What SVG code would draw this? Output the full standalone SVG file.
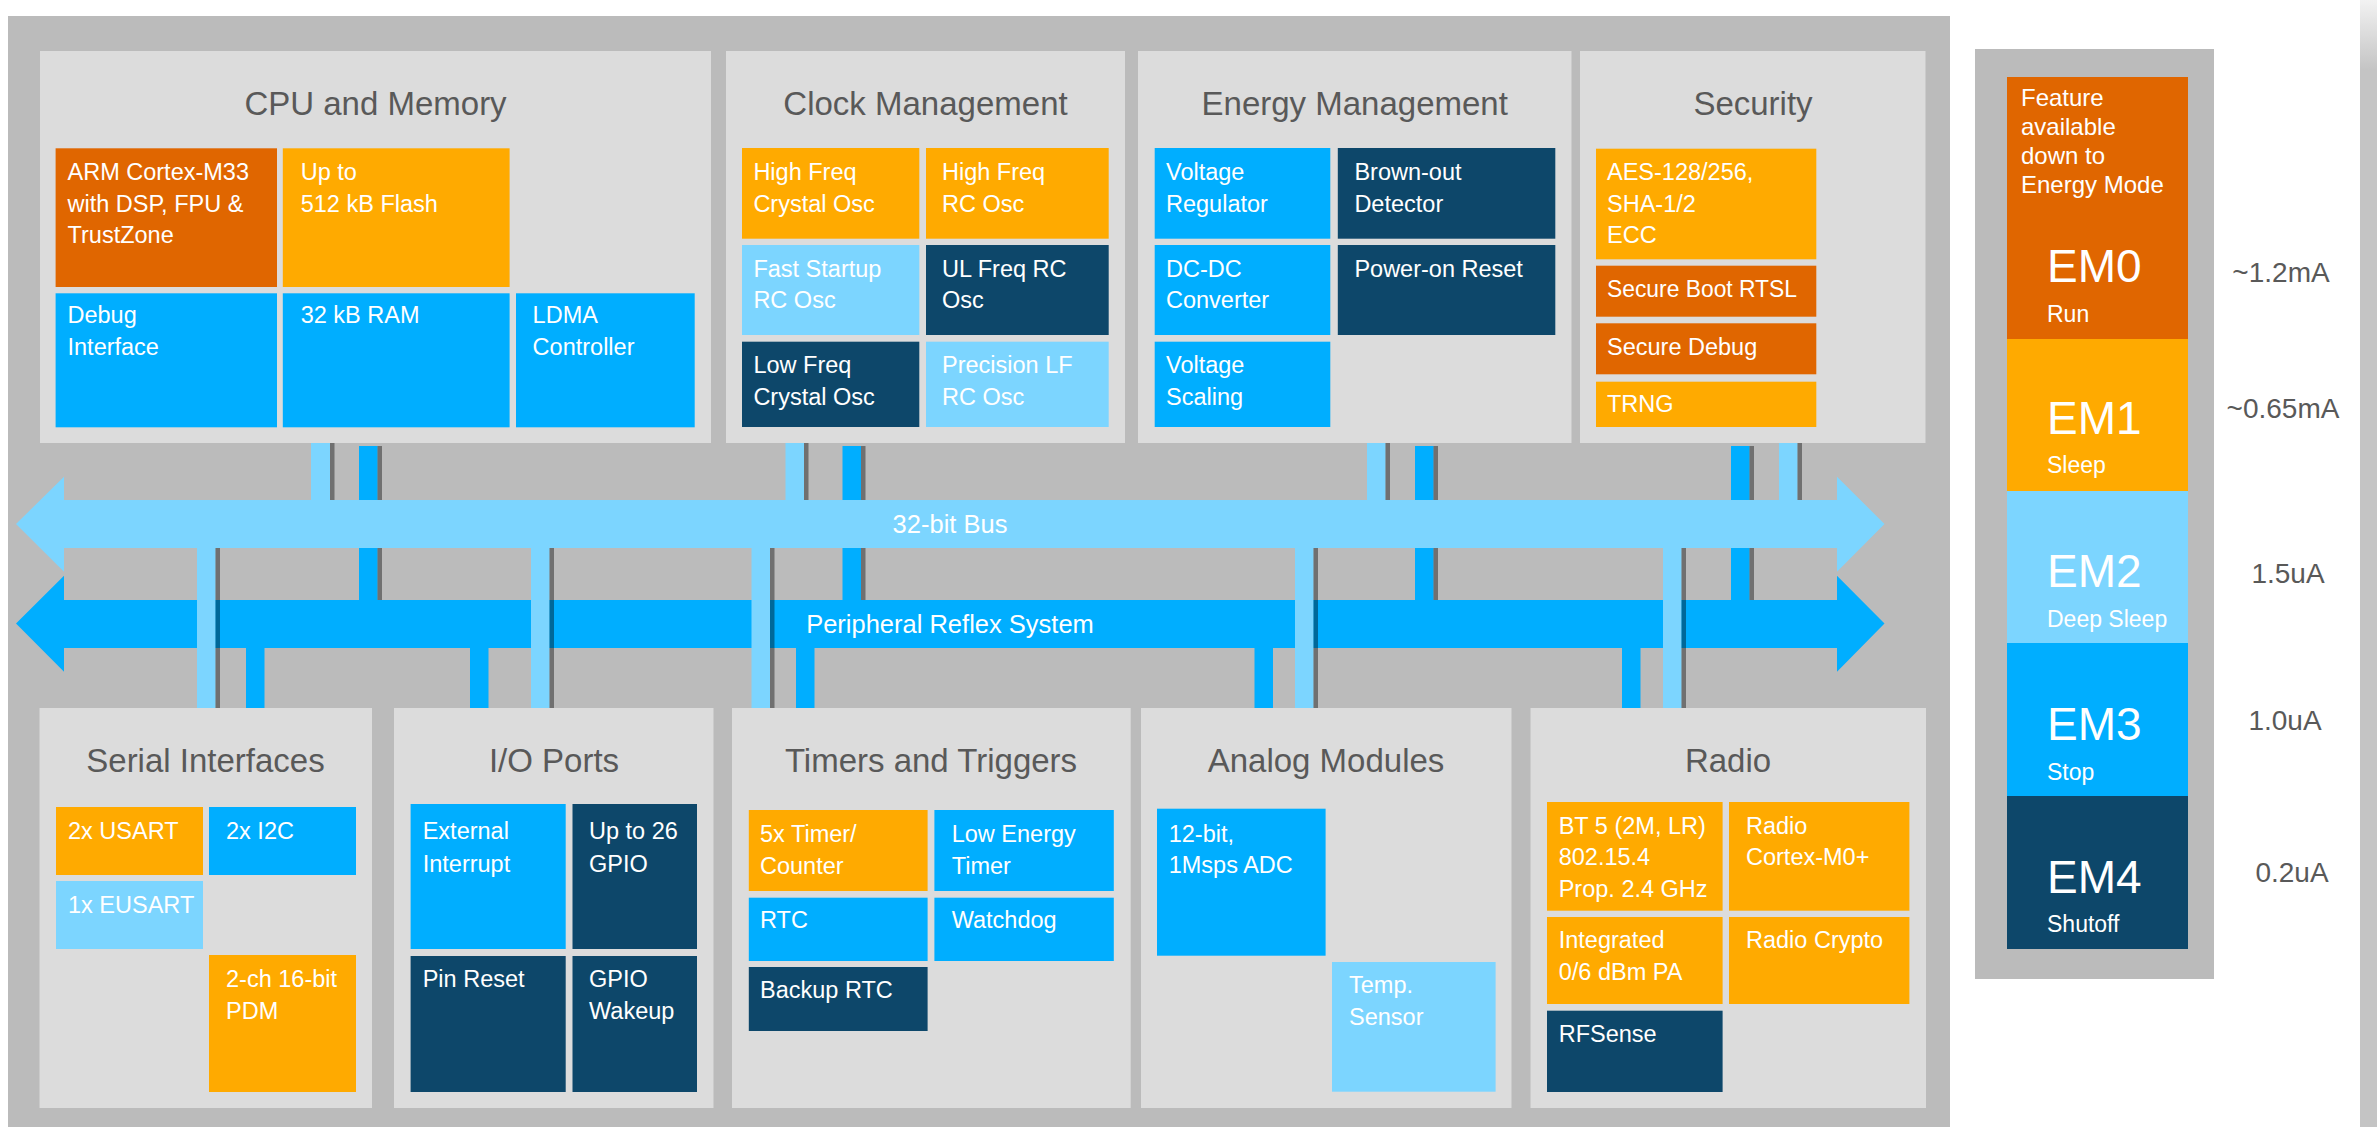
<svg xmlns="http://www.w3.org/2000/svg" width="2377" height="1127" viewBox="0 0 2377 1127">
<defs>
<style>
.panel{fill:#DCDCDC}
.frame{fill:#BBBBBB}
.title{font-family:"Liberation Sans",Arial,sans-serif;font-size:33px;fill:#595959;text-anchor:middle}
.t{font-family:"Liberation Sans",Arial,sans-serif;font-size:23.5px;fill:#FFFFFF}
.do{fill:#E06600}
.or{fill:#FFAA00}
.bb{fill:#00AEFF}
.lb{fill:#7CD5FF}
.nv{fill:#0D476A}
.sh{fill:#000000;fill-opacity:0.4}
.bus{font-family:"Liberation Sans",Arial,sans-serif;font-size:25.5px;fill:#FFFFFF;text-anchor:middle}
.em{font-family:"Liberation Sans",Arial,sans-serif;font-size:46px;fill:#FFFFFF}
.ems{font-family:"Liberation Sans",Arial,sans-serif;font-size:23px;fill:#FFFFFF}
.feat{font-family:"Liberation Sans",Arial,sans-serif;font-size:24px;fill:#FFFFFF}
.cur{font-family:"Liberation Sans",Arial,sans-serif;font-size:28px;fill:#595959;text-anchor:middle}
</style>
<linearGradient id="strip" x1="0" y1="0" x2="0" y2="70" gradientUnits="userSpaceOnUse">
<stop offset="0" stop-color="#F2F2F2"/>
<stop offset="1" stop-color="#C4C4C4"/>
</linearGradient>
</defs>
<rect x="0" y="0" width="2377" height="1127" fill="#FFFFFF"/>
<rect x="2360" y="0" width="17" height="1127" fill="url(#strip)"/>
<rect class="frame" x="8" y="16" width="1942" height="1111"/>

<!-- connectors -->
<g id="connectors">
  <!-- CPU to PRS (under 32-bit bus) -->
  <rect class="bb" x="359" y="446" width="18.5" height="154"/><rect class="sh" x="377.5" y="446" width="4.5" height="154"/>
  <rect class="bb" x="842.5" y="446" width="18.5" height="154"/><rect class="sh" x="861" y="446" width="4.5" height="154"/>
  <rect class="bb" x="1415" y="446" width="18.5" height="154"/><rect class="sh" x="1433.5" y="446" width="4.5" height="154"/>
  <rect class="bb" x="1731" y="446" width="18.5" height="154"/><rect class="sh" x="1749.5" y="446" width="4.5" height="154"/>
  <!-- top blocks to 32-bit bus -->
  <rect class="lb" x="311" y="443" width="19" height="57"/><rect class="sh" x="330" y="443" width="4.5" height="57"/>
  <rect class="lb" x="785.5" y="443" width="18.5" height="57"/><rect class="sh" x="804" y="443" width="4.5" height="57"/>
  <rect class="lb" x="1367" y="443" width="18.5" height="57"/><rect class="sh" x="1385.5" y="443" width="4.5" height="57"/>
  <rect class="lb" x="1779" y="443" width="18.5" height="57"/><rect class="sh" x="1797.5" y="443" width="4.5" height="57"/>
  <!-- 32-bit bus -->
  <polygon class="lb" points="16,524 64,476.7 64,500 1837,500 1837,476.7 1884.5,524 1837,571.7 1837,548 64,548 64,571.7"/>
  <text class="bus" x="950" y="533">32-bit Bus</text>
  <!-- Peripheral Reflex System -->
  <polygon class="bb" points="16,623.5 64,575.7 64,600 1837,600 1837,575.7 1884.5,623.5 1837,671.7 1837,648 64,648 64,671.7"/>
  <text class="bus" x="950" y="633">Peripheral Reflex System</text>
  <!-- 32-bit bus to bottom blocks (over PRS) -->
  <rect class="lb" x="197" y="548" width="18.5" height="160"/><rect class="sh" x="215.5" y="548" width="4.5" height="160"/>
  <rect class="lb" x="531" y="548" width="18.5" height="160"/><rect class="sh" x="549.5" y="548" width="4.5" height="160"/>
  <rect class="lb" x="751.5" y="548" width="18.5" height="160"/><rect class="sh" x="770" y="548" width="4.5" height="160"/>
  <rect class="lb" x="1295" y="548" width="18.5" height="160"/><rect class="sh" x="1313.5" y="548" width="4.5" height="160"/>
  <rect class="lb" x="1663" y="548" width="18.5" height="160"/><rect class="sh" x="1681.5" y="548" width="4.5" height="160"/>
  <!-- PRS to bottom blocks -->
  <rect class="bb" x="246" y="648" width="18.5" height="60"/>
  <rect class="bb" x="470" y="648" width="18.5" height="60"/>
  <rect class="bb" x="796" y="648" width="18.5" height="60"/>
  <rect class="bb" x="1254.5" y="648" width="18.5" height="60"/>
  <rect class="bb" x="1622" y="648" width="18.5" height="60"/>
</g>

<!-- CPU and Memory -->
<g id="cpu-memory">
  <rect class="panel" x="40" y="51" width="671" height="392"/>
  <text class="title" x="375.5" y="115">CPU and Memory</text>
  <rect class="do" x="55.6" y="148.3" width="221.4" height="138.7"/>
  <text class="t" x="67.5" y="180">ARM Cortex-M33</text>
  <text class="t" x="67.5" y="211.7">with DSP, FPU &amp;</text>
  <text class="t" x="67.5" y="243.3">TrustZone</text>
  <rect class="or" x="282.8" y="148.3" width="226.8" height="138.7"/>
  <text class="t" x="300.7" y="180">Up to</text>
  <text class="t" x="300.7" y="211.7">512 kB Flash</text>
  <rect class="bb" x="55.6" y="293.3" width="221.4" height="134"/>
  <text class="t" x="67.5" y="323.3">Debug</text>
  <text class="t" x="67.5" y="355">Interface</text>
  <rect class="bb" x="282.8" y="293.3" width="226.8" height="134"/>
  <text class="t" x="300.7" y="323.3">32 kB RAM</text>
  <rect class="bb" x="516" y="293.3" width="178.7" height="134"/>
  <text class="t" x="532.6" y="323.3">LDMA</text>
  <text class="t" x="532.6" y="355">Controller</text>
</g>

<!-- Clock Management -->
<g id="clock-management">
  <rect class="panel" x="726" y="51" width="399" height="392"/>
  <text class="title" x="925.5" y="115">Clock Management</text>
  <rect class="or" x="742" y="148" width="177.3" height="90.7"/>
  <text class="t" x="753.4" y="180">High Freq</text>
  <text class="t" x="753.4" y="211.7">Crystal Osc</text>
  <rect class="or" x="926" y="148" width="182.7" height="90.7"/>
  <text class="t" x="942" y="180">High Freq</text>
  <text class="t" x="942" y="211.7">RC Osc</text>
  <rect class="lb" x="742" y="245" width="177.3" height="90"/>
  <text class="t" x="753.4" y="276.7">Fast Startup</text>
  <text class="t" x="753.4" y="308.3">RC Osc</text>
  <rect class="nv" x="926" y="245" width="182.7" height="90"/>
  <text class="t" x="942" y="276.7">UL Freq RC</text>
  <text class="t" x="942" y="308.3">Osc</text>
  <rect class="nv" x="742" y="341.7" width="177.3" height="85.3"/>
  <text class="t" x="753.4" y="373.3">Low Freq</text>
  <text class="t" x="753.4" y="405">Crystal Osc</text>
  <rect class="lb" x="926" y="341.7" width="182.7" height="85.3"/>
  <text class="t" x="942" y="373.3">Precision LF</text>
  <text class="t" x="942" y="405">RC Osc</text>
</g>

<!-- Energy Management -->
<g id="energy-management">
  <rect class="panel" x="1138" y="51" width="433.5" height="392"/>
  <text class="title" x="1354.7" y="115">Energy Management</text>
  <rect class="bb" x="1154.7" y="148" width="175.6" height="90.7"/>
  <text class="t" x="1166" y="180">Voltage</text>
  <text class="t" x="1166" y="211.7">Regulator</text>
  <rect class="nv" x="1337.8" y="148" width="217.5" height="90.7"/>
  <text class="t" x="1354.4" y="180">Brown-out</text>
  <text class="t" x="1354.4" y="211.7">Detector</text>
  <rect class="bb" x="1154.7" y="245" width="175.6" height="90"/>
  <text class="t" x="1166" y="276.7">DC-DC</text>
  <text class="t" x="1166" y="308.3">Converter</text>
  <rect class="nv" x="1337.8" y="245" width="217.5" height="90"/>
  <text class="t" x="1354.4" y="276.7">Power-on Reset</text>
  <rect class="bb" x="1154.7" y="341.7" width="175.6" height="85.3"/>
  <text class="t" x="1166" y="373.3">Voltage</text>
  <text class="t" x="1166" y="405">Scaling</text>
</g>

<!-- Security -->
<g id="security">
  <rect class="panel" x="1580" y="51" width="345.5" height="392"/>
  <text class="title" x="1753" y="115">Security</text>
  <rect class="or" x="1596" y="148.7" width="220.3" height="110.6"/>
  <text class="t" x="1607" y="180">AES-128/256,</text>
  <text class="t" x="1607" y="211.7">SHA-1/2</text>
  <text class="t" x="1607" y="243.3">ECC</text>
  <rect class="do" x="1596" y="265.7" width="220.3" height="51"/>
  <text class="t" x="1607" y="296.7" textLength="190" lengthAdjust="spacingAndGlyphs">Secure Boot RTSL</text>
  <rect class="do" x="1596" y="323.3" width="220.3" height="51"/>
  <text class="t" x="1607" y="355">Secure Debug</text>
  <rect class="or" x="1596" y="381.7" width="220.3" height="45.3"/>
  <text class="t" x="1607" y="412.3">TRNG</text>
</g>

<!-- Serial Interfaces -->
<g id="serial-interfaces">
  <rect class="panel" x="39.5" y="708" width="332.5" height="400"/>
  <text class="title" x="205.5" y="772">Serial Interfaces</text>
  <rect class="or" x="56" y="807" width="147" height="68"/>
  <text class="t" x="68" y="839">2x USART</text>
  <rect class="bb" x="209" y="807" width="147" height="68"/>
  <text class="t" x="226" y="839">2x I2C</text>
  <rect class="lb" x="56" y="881" width="147" height="68"/>
  <text class="t" x="68" y="913">1x EUSART</text>
  <rect class="or" x="209" y="955" width="147" height="137"/>
  <text class="t" x="226" y="987">2-ch 16-bit</text>
  <text class="t" x="226" y="1018.5">PDM</text>
</g>

<!-- I/O Ports -->
<g id="io-ports">
  <rect class="panel" x="394" y="708" width="319.5" height="400"/>
  <text class="title" x="554" y="772">I/O Ports</text>
  <rect class="bb" x="410.6" y="804" width="155.1" height="145"/>
  <text class="t" x="422.7" y="839">External</text>
  <text class="t" x="422.7" y="871.5">Interrupt</text>
  <rect class="nv" x="572.5" y="804" width="124.5" height="145"/>
  <text class="t" x="589" y="839">Up to 26</text>
  <text class="t" x="589" y="871.5">GPIO</text>
  <rect class="nv" x="410.6" y="956" width="155.1" height="136"/>
  <text class="t" x="422.7" y="987">Pin Reset</text>
  <rect class="nv" x="572.5" y="956" width="124.5" height="136"/>
  <text class="t" x="589" y="987">GPIO</text>
  <text class="t" x="589" y="1018.5">Wakeup</text>
</g>

<!-- Timers and Triggers -->
<g id="timers-triggers">
  <rect class="panel" x="732" y="708" width="398.7" height="400"/>
  <text class="title" x="931" y="772">Timers and Triggers</text>
  <rect class="or" x="748.8" y="810" width="178.8" height="81"/>
  <text class="t" x="760" y="842">5x Timer/</text>
  <text class="t" x="760" y="874">Counter</text>
  <rect class="bb" x="934.4" y="810" width="179.4" height="81"/>
  <text class="t" x="951.7" y="842">Low Energy</text>
  <text class="t" x="951.7" y="874">Timer</text>
  <rect class="bb" x="748.8" y="897.7" width="178.8" height="63.3"/>
  <text class="t" x="760" y="928">RTC</text>
  <rect class="bb" x="934.4" y="897.7" width="179.4" height="63.3"/>
  <text class="t" x="951.7" y="928">Watchdog</text>
  <rect class="nv" x="748.8" y="967" width="178.8" height="64"/>
  <text class="t" x="760" y="998">Backup RTC</text>
</g>

<!-- Analog Modules -->
<g id="analog-modules">
  <rect class="panel" x="1141" y="708" width="370.5" height="400"/>
  <text class="title" x="1326" y="772">Analog Modules</text>
  <rect class="bb" x="1157" y="808.7" width="168.6" height="147"/>
  <text class="t" x="1168.7" y="841.7">12-bit,</text>
  <text class="t" x="1168.7" y="873">1Msps ADC</text>
  <rect class="lb" x="1332" y="962" width="163.6" height="129.7"/>
  <text class="t" x="1349" y="993">Temp.</text>
  <text class="t" x="1349" y="1025">Sensor</text>
</g>

<!-- Radio -->
<g id="radio">
  <rect class="panel" x="1530.5" y="708" width="395.5" height="400"/>
  <text class="title" x="1728" y="772">Radio</text>
  <rect class="or" x="1547" y="802" width="175.6" height="108.7"/>
  <text class="t" x="1558.7" y="834">BT 5 (2M, LR)</text>
  <text class="t" x="1558.7" y="865.3">802.15.4</text>
  <text class="t" x="1558.7" y="896.7">Prop. 2.4 GHz</text>
  <rect class="or" x="1729" y="802" width="180.4" height="108.7"/>
  <text class="t" x="1746" y="834">Radio</text>
  <text class="t" x="1746" y="865.3">Cortex-M0+</text>
  <rect class="or" x="1547" y="917" width="175.6" height="87"/>
  <text class="t" x="1558.7" y="948.3">Integrated</text>
  <text class="t" x="1558.7" y="980">0/6 dBm PA</text>
  <rect class="or" x="1729" y="917" width="180.4" height="87"/>
  <text class="t" x="1746" y="948.3">Radio Crypto</text>
  <rect class="nv" x="1547" y="1010.7" width="175.6" height="81.3"/>
  <text class="t" x="1558.7" y="1041.7">RFSense</text>
</g>

<!-- Energy modes legend -->
<g id="energy-modes">
  <rect class="frame" x="1975" y="49" width="239" height="930"/>
  <g id="em0">
    <rect class="do" x="2007" y="77" width="181" height="262"/>
    <text class="feat" x="2021" y="106">Feature</text>
    <text class="feat" x="2021" y="135">available</text>
    <text class="feat" x="2021" y="164">down to</text>
    <text class="feat" x="2021" y="193">Energy Mode</text>
    <text class="em" x="2047" y="282">EM0</text>
    <text class="ems" x="2047" y="322">Run</text>
  </g>
  <g id="em1">
    <rect class="or" x="2007" y="339" width="181" height="152"/>
    <text class="em" x="2047" y="434">EM1</text>
    <text class="ems" x="2047" y="473">Sleep</text>
  </g>
  <g id="em2">
    <rect class="lb" x="2007" y="491" width="181" height="152"/>
    <text class="em" x="2047" y="587">EM2</text>
    <text class="ems" x="2047" y="627">Deep Sleep</text>
  </g>
  <g id="em3">
    <rect class="bb" x="2007" y="643" width="181" height="153"/>
    <text class="em" x="2047" y="740">EM3</text>
    <text class="ems" x="2047" y="780">Stop</text>
  </g>
  <g id="em4">
    <rect class="nv" x="2007" y="796" width="181" height="153"/>
    <text class="em" x="2047" y="893">EM4</text>
    <text class="ems" x="2047" y="932">Shutoff</text>
  </g>
  <text class="cur" x="2281" y="282">~1.2mA</text>
  <text class="cur" x="2283" y="418">~0.65mA</text>
  <text class="cur" x="2288" y="583">1.5uA</text>
  <text class="cur" x="2285" y="730">1.0uA</text>
  <text class="cur" x="2292" y="882">0.2uA</text>
</g>
</svg>
